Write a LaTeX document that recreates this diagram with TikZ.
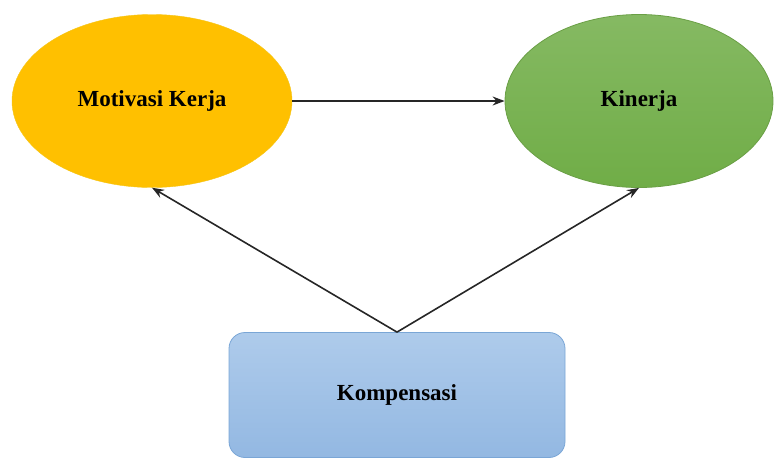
\documentclass[tikz,border=0pt]{standalone}
\usepackage{fontspec}
\setmainfont{Liberation Serif}
\usetikzlibrary{shapes.geometric,arrows.meta}
\definecolor{gold}{HTML}{FFC000}
\definecolor{goldline}{HTML}{F5C518}
\definecolor{leaf}{HTML}{70AD47}
\definecolor{leafline}{HTML}{6A9F45}
\definecolor{skytop}{HTML}{AECBEB}
\definecolor{skybot}{HTML}{93B8E2}
\definecolor{skyline}{HTML}{7AA6D6}
\tikzset{
  varnode/.style={ellipse, minimum width=280pt, minimum height=173pt, inner sep=0pt,
    font=\fontsize{23}{27}\selectfont\bfseries},
  boxnode/.style={rectangle, rounded corners=16pt, minimum width=336pt, minimum height=125pt,
    inner sep=0pt, draw=skyline, line width=0.8pt, top color=skytop, bottom color=skybot,
    font=\fontsize{23}{27}\selectfont\bfseries},
  arr/.style={-{Stealth[length=12pt,width=9pt]}, line width=1.6pt, black!85}
}
\begin{document}
\begin{tikzpicture}[x=1pt,y=-1pt]
        \useasboundingbox (0,0) rectangle (777,459);

        \node [varnode, draw=goldline, fill=gold] (motiv) at (152,101) {Motivasi Kerja};
        \node [varnode, minimum width=268pt, draw=leafline, line width=0.8pt,
               top color=leaf!85!white, bottom color=leaf] (kin) at (639,101) {Kinerja};
        \node [boxnode] (komp) at (397,395) {Kompensasi};

        \draw [arr] (motiv.east) -- (kin.west);
        \draw [arr] (komp.north) -- (motiv.south);
        \draw [arr] (komp.north) -- (kin.south);
\end{tikzpicture}
\end{document}
